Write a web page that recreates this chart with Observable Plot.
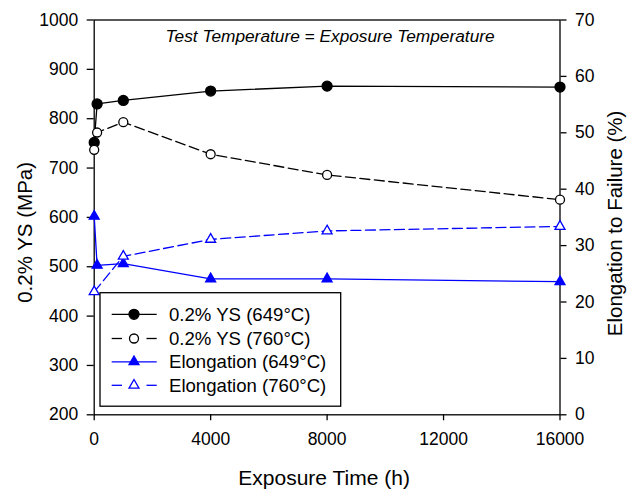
<!DOCTYPE html>
<html>
<head>
<meta charset="utf-8">
<script src="https://cdn.jsdelivr.net/npm/d3@7"></script>
<script src="https://cdn.jsdelivr.net/npm/@observablehq/plot@0.6"></script>
<style>
  html, body { margin: 0; padding: 0; background: #fff; }
  #chart { width: 635px; height: 489px; }
</style>
</head>
<body>
<div id="chart"></div>
<script>
// ---- data ----
const hours = [0, 100, 1000, 4000, 8000, 16000];
const ys649 = [752, 830, 837, 856, 866, 864];          // MPa
const ys760 = [737, 772, 793, 728, 686, 636];          // MPa
const el649 = [35.2, 26.5, 26.8, 24.1, 24.1, 23.6];    // %
const hoursEl760 = [0, 1000, 4000, 8000, 16000];
const el760 = [21.8, 28.1, 31.1, 32.6, 33.4];          // %

const seriesNames = ["0.2% YS (649°C)", "0.2% YS (760°C)", "Elongation (649°C)", "Elongation (760°C)"];
const xTicks = [0, 4000, 8000, 12000, 16000];
const ysTicks = [200, 300, 400, 500, 600, 700, 800, 900, 1000];
const elTicks = [0, 10, 20, 30, 40, 50, 60, 70];

const titleText = "Test Temperature = Exposure Temperature";
const xTitle = "Exposure Time (h)";
const yTitle = "0.2% YS (MPa)";
const y2Title = "Elongation to Failure (%)";

// ---- secondary axis mapping: elongation (0..70) onto MPa domain (200..1000) ----
const Y0 = 200, Y1 = 1000, E0 = 0, E1 = 70;
const eToY = e => Y0 + (e - E0) * (Y1 - Y0) / (E1 - E0);
const yToE = y => E0 + (y - Y0) * (E1 - E0) / (Y1 - Y0);

const blue = "#0000ff";
const styles = [
  {stroke: "black", dash: null, symbol: "circle", fill: "black", r: 5},
  {stroke: "black", dash: "10,4.5", symbol: "circle", fill: "white", r: 4.5},
  {stroke: blue, dash: null, symbol: "triangle", fill: blue, r: 3.7},
  {stroke: blue, dash: "10,4.5", symbol: "triangle", fill: "white", r: 3.7}
];

const data = [
  ...hours.map((h, i) => ({s: 0, h, v: ys649[i]})),
  ...hours.map((h, i) => ({s: 1, h, v: ys760[i]})),
  ...hours.map((h, i) => ({s: 2, h, v: eToY(el649[i])})),
  ...hoursEl760.map((h, i) => ({s: 3, h, v: eToY(el760[i])}))
];

const lineMarks = styles.map((st, k) =>
  Plot.line(data.filter(d => d.s === k), {
    x: "h", y: "v", stroke: st.stroke, strokeWidth: 1.3,
    strokeDasharray: st.dash || undefined
  })
);
const dotMarks = styles.map((st, k) =>
  Plot.dot(data.filter(d => d.s === k), {
    x: "h", y: "v", symbol: st.symbol, r: st.r,
    fill: st.fill, stroke: st.stroke, strokeWidth: 1.3
  })
);

const font = "'Liberation Sans', Arial, Helvetica, sans-serif";

const chart = Plot.plot({
  width: 635,
  height: 489,
  marginLeft: 93.7,
  marginRight: 75.5,
  marginTop: 19.5,
  marginBottom: 74.7,
  style: {fontFamily: font, fontSize: "17.5px", color: "black", background: "white", overflow: "visible"},
  x: {domain: [0, 16000], label: null},
  y: {domain: [Y0, Y1], label: null},
  marks: [
    Plot.frame({stroke: "black", strokeWidth: 1.3}),
    Plot.axisX({ticks: xTicks, tickSize: 6, tickPadding: 12, strokeWidth: 1.3, label: null,
                tickFormat: d => String(d)}),
    Plot.axisY({ticks: ysTicks, tickSize: 7, tickPadding: 9, strokeWidth: 1.3, label: null,
                tickFormat: d => String(d)}),
    Plot.axisY({anchor: "right", ticks: elTicks.map(eToY), tickSize: 6, tickPadding: 9,
                strokeWidth: 1.3, label: null, tickFormat: v => String(Math.round(yToE(v)))}),
    ...lineMarks,
    ...dotMarks,
    Plot.text([titleText], {frameAnchor: "top", dx: 3, dy: 22.2, lineAnchor: "bottom",
                textAnchor: "middle", fontSize: 17.3, fontStyle: "italic"}),
    Plot.text([xTitle], {frameAnchor: "bottom", dx: -3, dy: 70.5, lineAnchor: "bottom",
                textAnchor: "middle", fontSize: 21}),
    Plot.text([yTitle], {frameAnchor: "left", dx: -62.5, dy: 15, rotate: -90, lineAnchor: "bottom",
                textAnchor: "middle", fontSize: 20.5}),
    Plot.text([y2Title], {frameAnchor: "right", dx: 62, dy: 6, rotate: -90, lineAnchor: "bottom",
                textAnchor: "middle", fontSize: 20.5})
  ]
});

document.getElementById("chart").appendChild(chart);

// ---- legend box inside the plot area ----
const svg = d3.select(chart);
const lg = svg.append("g").attr("font-family", font).attr("font-size", 18.6).attr("text-anchor", "start");
lg.append("rect").attr("x", 100).attr("y", 292.7).attr("width", 240.7).attr("height", 113.5)
  .attr("fill", "white").attr("stroke", "black").attr("stroke-width", 1.3);
const rowY = [314.3, 338.5, 361.8, 385.3];
styles.forEach((st, k) => {
  const y = rowY[k];
  if (st.dash) {
    lg.append("line").attr("x1", 111.7).attr("x2", 122).attr("y1", y).attr("y2", y)
      .attr("stroke", st.stroke).attr("stroke-width", 1.3);
    lg.append("line").attr("x1", 146.5).attr("x2", 156.7).attr("y1", y).attr("y2", y)
      .attr("stroke", st.stroke).attr("stroke-width", 1.3);
  } else {
    lg.append("line").attr("x1", 111.7).attr("x2", 156.7).attr("y1", y).attr("y2", y)
      .attr("stroke", st.stroke).attr("stroke-width", 1.3);
  }
  const sym = st.symbol === "circle" ? d3.symbolCircle : d3.symbolTriangle;
  lg.append("path").attr("transform", `translate(134,${y})`)
    .attr("d", d3.symbol(sym, Math.PI * st.r * st.r)())
    .attr("fill", st.fill).attr("stroke", st.stroke).attr("stroke-width", 1.3);
  lg.append("text").attr("x", 169).attr("y", y).attr("dy", "0.36em")
    .attr("text-anchor", "start").attr("fill", "black").text(seriesNames[k]);
});
</script>
</body>
</html>
